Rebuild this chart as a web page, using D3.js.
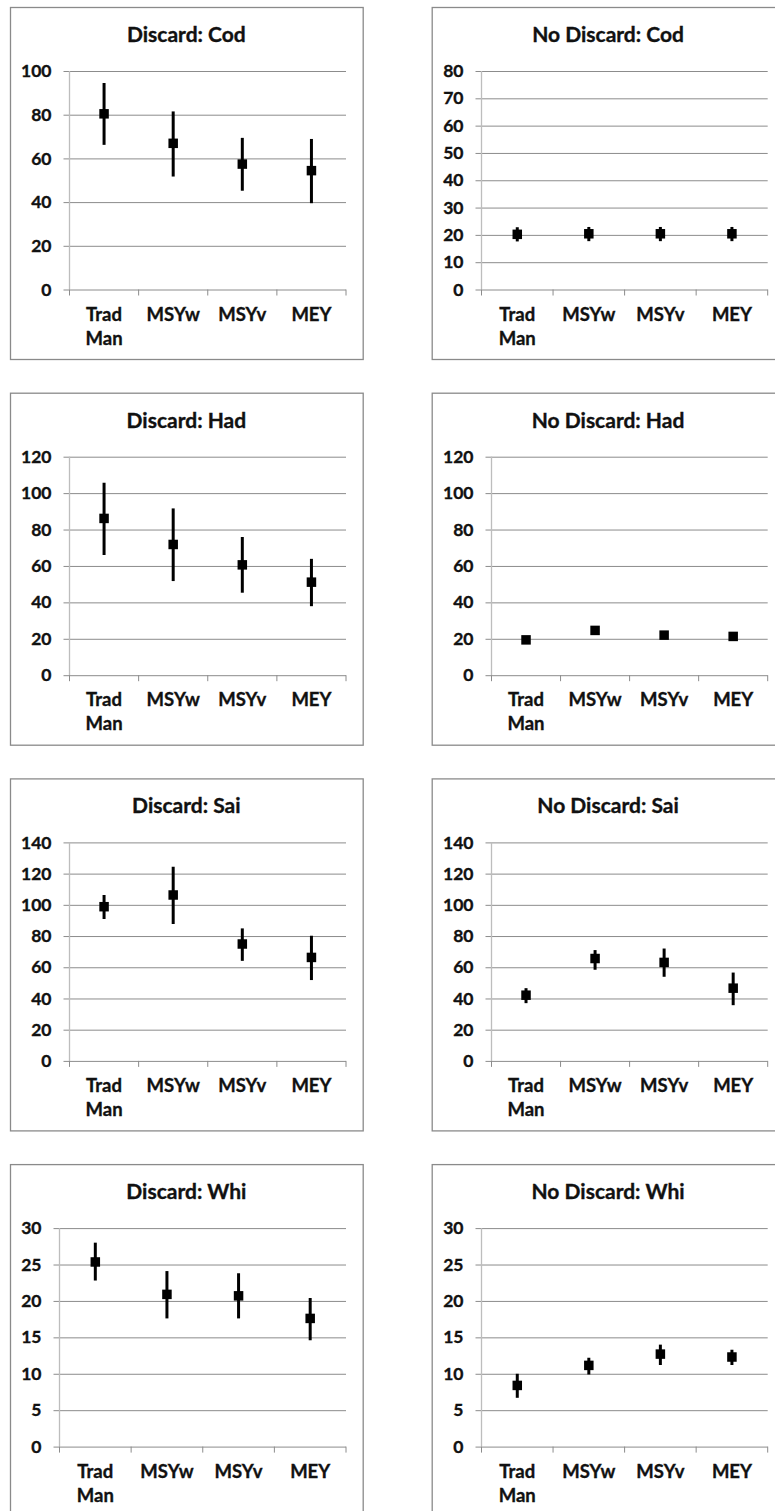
<!DOCTYPE html>
<html>
<head>
<meta charset="utf-8">
<script src="https://cdn.jsdelivr.net/npm/d3@7"></script>
<style>
html, body { margin: 0; padding: 0; background: #fff; overflow: hidden; }
svg { display: block; }
text { font-family: Lato, "Open Sans", sans-serif; font-weight: 700; fill: #111; stroke: #111; stroke-width: 0.35px; }
</style>
</head>
<body>
<svg id="chart" width="775" height="1511"></svg>
<script>
// ---- data ----
const categories = ["Trad Man", "MSYw", "MSYv", "MEY"];
const panelTitles = [
  "Discard: Cod", "No Discard: Cod",
  "Discard: Had", "No Discard: Had",
  "Discard: Sai", "No Discard: Sai",
  "Discard: Whi", "No Discard: Whi"
];
const yMaxes = [100, 80, 120, 120, 140, 140, 30, 30];
const ySteps = [20, 10, 20, 20, 20, 20, 5, 5];

const discardCodMean = [80.4, 66.9, 57.4, 54.4];
const discardCodLow  = [66.2, 51.7, 45.2, 39.5];
const discardCodHigh = [94.5, 81.5, 69.4, 68.9];

const noDiscardCodMean = [20.2, 20.4, 20.4, 20.4];
const noDiscardCodLow  = [17.6, 17.7, 17.7, 17.7];
const noDiscardCodHigh = [22.8, 22.9, 22.9, 22.9];

const discardHadMean = [86.1, 71.8, 60.6, 51.1];
const discardHadLow  = [66.0, 51.7, 45.3, 37.9];
const discardHadHigh = [105.7, 91.6, 75.9, 63.9];

const noDiscardHadMean = [19.4, 24.6, 22.0, 21.3];
const noDiscardHadLow  = [18.2, 23.4, 20.9, 20.2];
const noDiscardHadHigh = [20.6, 25.8, 23.1, 22.4];

const discardSaiMean = [98.8, 106.3, 74.9, 66.3];
const discardSaiLow  = [90.9, 87.7, 64.1, 51.8];
const discardSaiHigh = [106.3, 124.4, 84.9, 80.2];

const noDiscardSaiMean = [42.1, 65.6, 63.1, 46.6];
const noDiscardSaiLow  = [37.0, 58.4, 53.9, 35.7];
const noDiscardSaiHigh = [46.6, 71.0, 72.0, 56.6];

const discardWhiMean = [25.35, 20.9, 20.7, 17.6];
const discardWhiLow  = [22.8, 17.6, 17.6, 14.6];
const discardWhiHigh = [28.0, 24.1, 23.8, 20.4];

const noDiscardWhiMean = [8.4, 11.15, 12.7, 12.3];
const noDiscardWhiLow  = [6.7, 9.9, 11.2, 11.2];
const noDiscardWhiHigh = [10.0, 12.2, 14.0, 13.3];

const panelMeans = [discardCodMean, noDiscardCodMean, discardHadMean, noDiscardHadMean,
                    discardSaiMean, noDiscardSaiMean, discardWhiMean, noDiscardWhiMean];
const panelLows  = [discardCodLow, noDiscardCodLow, discardHadLow, noDiscardHadLow,
                    discardSaiLow, noDiscardSaiLow, discardWhiLow, noDiscardWhiLow];
const panelHighs = [discardCodHigh, noDiscardCodHigh, discardHadHigh, noDiscardHadHigh,
                    discardSaiHigh, noDiscardSaiHigh, discardWhiHigh, noDiscardWhiHigh];

// ---- layout ----
const svg = d3.select("#chart");
const colX = [10, 431.7];
const rowY0 = 7, rowStep = 385.7;
const boxW = 352.7, boxH = 352;
const gridColor = "#8c8c8c";
const tickFont = 17.5, catFont = 18.5, titleFont = 21;

// measure text width helper
const measurer = svg.append("text").attr("font-size", tickFont).attr("visibility", "hidden");
function textW(s, size) {
  measurer.attr("font-size", size).text(s);
  return measurer.node().getComputedTextLength();
}

panelTitles.forEach((title, i) => {
  const col = i % 2, row = Math.floor(i / 2);
  const bx = colX[col], by = rowY0 + row * rowStep;
  const g = svg.append("g");

  g.append("rect")
    .attr("x", bx + 0.5).attr("y", by + 0.5)
    .attr("width", boxW).attr("height", boxH)
    .attr("fill", "#fff").attr("stroke", "#8a8a8a").attr("stroke-width", 1.3);

  g.append("text")
    .attr("x", bx + boxW / 2).attr("y", by + 35)
    .attr("text-anchor", "middle")
    .attr("font-size", titleFont)
    .text(title);

  const tickVals = d3.range(0, yMaxes[i] + ySteps[i] / 2, ySteps[i]);
  const maxLabelW = d3.max(tickVals, v => textW(String(v), tickFont));
  const left = Math.round(bx + 11 + maxLabelW + 18) + 0.5;
  const right = bx + 336;
  const top = by + 64, bottom = by + 282.5;
  const w = right - left;

  const y = d3.scaleLinear().domain([0, yMaxes[i]]).range([bottom, top]);
  const x = d3.scaleBand().domain(categories).range([0, w]).paddingInner(0).paddingOuter(0);

  const plot = g.append("g").attr("transform", `translate(${left},0)`);

  // y axis with gridlines
  const yAxis = plot.append("g")
    .call(d3.axisLeft(y).tickValues(tickVals).tickSize(-w).tickPadding(18).tickFormat(d3.format("d")));
  yAxis.select(".domain").remove();
  yAxis.selectAll(".tick line")
    .attr("x1", -6)
    .attr("stroke", gridColor).attr("stroke-width", 1);
  yAxis.selectAll(".tick text")
    .attr("font-size", tickFont)
    .attr("font-family", "Lato, sans-serif")
    .attr("font-weight", 700)
    .attr("fill", "#111");

  // vertical axis line
  plot.append("line")
    .attr("x1", 0).attr("x2", 0)
    .attr("y1", y(yMaxes[i])).attr("y2", bottom)
    .attr("stroke", "#bdbdbd").attr("stroke-width", 1.3);

  // x axis (tick marks between categories)
  const boundaries = categories.map(c => x(c)).concat([w]);
  plot.selectAll(".xtick").data(boundaries).join("line")
    .attr("x1", d => d).attr("x2", d => d)
    .attr("y1", bottom).attr("y2", bottom + 6)
    .attr("stroke", gridColor).attr("stroke-width", 1);

  const xAxis = plot.append("g").attr("transform", `translate(0,${bottom})`)
    .call(d3.axisBottom(x).tickSize(0).tickPadding(0));
  xAxis.select(".domain").remove();
  xAxis.selectAll(".tick text").each(function (d) {
    const t = d3.select(this);
    const parts = d.split(" ");
    t.text(null)
      .attr("y", 0).attr("dy", null)
      .attr("font-size", catFont)
      .attr("font-family", "Lato, sans-serif")
      .attr("font-weight", 700)
      .attr("fill", "#111");
    parts.forEach((p, k) => {
      t.append("tspan").attr("x", 0).attr("y", 31 + k * 24).text(p);
    });
  });

  // error bars & markers
  const means = panelMeans[i], lows = panelLows[i], highs = panelHighs[i];
  const pts = categories.map((c, k) => ({ c, m: means[k], lo: lows[k], hi: highs[k] }));
  plot.selectAll(".err").data(pts).join("line")
    .attr("x1", d => x(d.c) + x.bandwidth() / 2)
    .attr("x2", d => x(d.c) + x.bandwidth() / 2)
    .attr("y1", d => y(d.lo)).attr("y2", d => y(d.hi))
    .attr("stroke", "#000").attr("stroke-width", 3);
  const ms = 9.5;
  plot.selectAll(".mk").data(pts).join("rect")
    .attr("x", d => x(d.c) + x.bandwidth() / 2 - ms / 2)
    .attr("y", d => y(d.m) - ms / 2)
    .attr("width", ms).attr("height", ms)
    .attr("fill", "#000");
});
measurer.remove();
</script>
</body>
</html>
